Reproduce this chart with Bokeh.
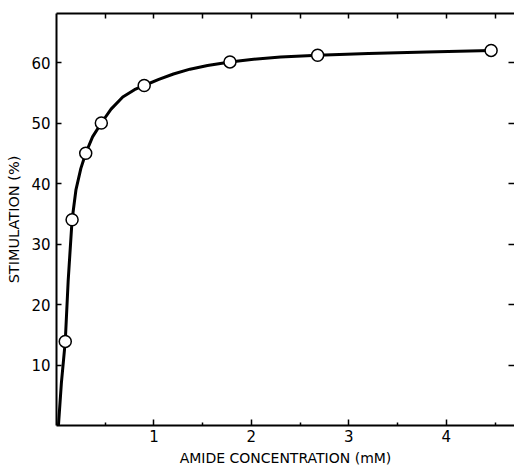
from bokeh.plotting import figure
from bokeh.models import LinearAxis, Range1d, FixedTicker
from bokeh.embed import file_html
from bokeh.resources import INLINE

# measured points
conc = [0.09, 0.16, 0.30, 0.46, 0.90, 1.78, 2.68, 4.46]
stim = [13.9, 34.0, 45.0, 50.0, 56.2, 60.1, 61.2, 62.0]

# smooth curve
curve_x = [0.02, 0.05, 0.09, 0.12, 0.16, 0.20, 0.25, 0.30, 0.37, 0.46, 0.56, 0.68,
           0.80, 0.90, 1.05, 1.20, 1.37, 1.55, 1.78, 2.00, 2.30, 2.68, 3.20, 3.80, 4.46]
curve_y = [0.0, 7.0, 13.9, 24.0, 34.0, 39.0, 42.5, 45.0, 47.7, 50.0, 52.3, 54.3,
           55.5, 56.2, 57.2, 58.1, 58.9, 59.5, 60.1, 60.5, 60.9, 61.2, 61.5, 61.75, 62.0]

x_major = [1, 2, 3, 4]
x_minor = [0.5, 1.5, 2.5, 3.5, 4.5]
y_major = [10, 20, 30, 40, 50, 60]

FONT = "DejaVu Sans"

p = figure(width=514, height=468, output_backend="svg", toolbar_location=None,
           x_range=Range1d(0, 4.70), y_range=Range1d(0, 68.1),
           x_axis_location=None, y_axis_location=None,
           min_border_left=56, min_border_right=0, min_border_top=13, min_border_bottom=0)
p.grid.visible = False
p.outline_line_color = None
p.background_fill_color = "white"
p.border_fill_color = "white"

def style(ax):
    ax.axis_line_color = "black"
    ax.axis_line_width = 2
    ax.major_tick_line_color = "black"
    ax.major_tick_line_width = 1.5
    ax.minor_tick_line_color = "black"
    ax.minor_tick_line_width = 1.5
    ax.major_tick_out = 0
    ax.minor_tick_out = 0
    ax.major_label_text_font = FONT
    ax.major_label_text_color = "black"
    ax.axis_label_text_font = FONT
    ax.axis_label_text_font_style = "normal"
    ax.axis_label_text_color = "black"

# bottom axis
xb = LinearAxis(ticker=FixedTicker(ticks=x_major, minor_ticks=x_minor),
                axis_label="AMIDE CONCENTRATION (mM)")
style(xb)
xb.major_tick_in = 6
xb.minor_tick_in = 3
xb.major_label_text_font_size = "15px"
xb.major_label_standoff = 4
xb.axis_label_text_font_size = "14px"
xb.axis_label_standoff = 5
p.add_layout(xb, "below")

# left axis
yl = LinearAxis(ticker=FixedTicker(ticks=y_major), axis_label="STIMULATION (%)")
style(yl)
yl.major_tick_in = 5
yl.minor_tick_in = 0
yl.major_label_text_font_size = "15px"
yl.major_label_standoff = 6
yl.axis_label_text_font_size = "14.5px"
yl.axis_label_standoff = 6
p.add_layout(yl, "left")

# top axis (ticks only)
top_ticks = sorted(x_minor + x_major)
xt = LinearAxis(ticker=FixedTicker(ticks=top_ticks),
                major_label_overrides={t: "" for t in top_ticks})
style(xt)
xt.major_tick_in = 5
xt.minor_tick_in = 0
xt.major_label_standoff = 0
p.add_layout(xt, "above")

# right axis (ticks only)
yr = LinearAxis(ticker=FixedTicker(ticks=y_major),
                major_label_overrides={t: "" for t in y_major})
style(yr)
yr.axis_line_color = None
yr.major_tick_in = 6
yr.minor_tick_in = 0
yr.major_label_standoff = 0
p.add_layout(yr, "right")

p.line(curve_x, curve_y, line_color="black", line_width=3)
p.scatter(conc, stim, marker="circle", size=12, fill_color="white",
          line_color="black", line_width=1.5)

open("out.html", "w").write(file_html(p, INLINE))
